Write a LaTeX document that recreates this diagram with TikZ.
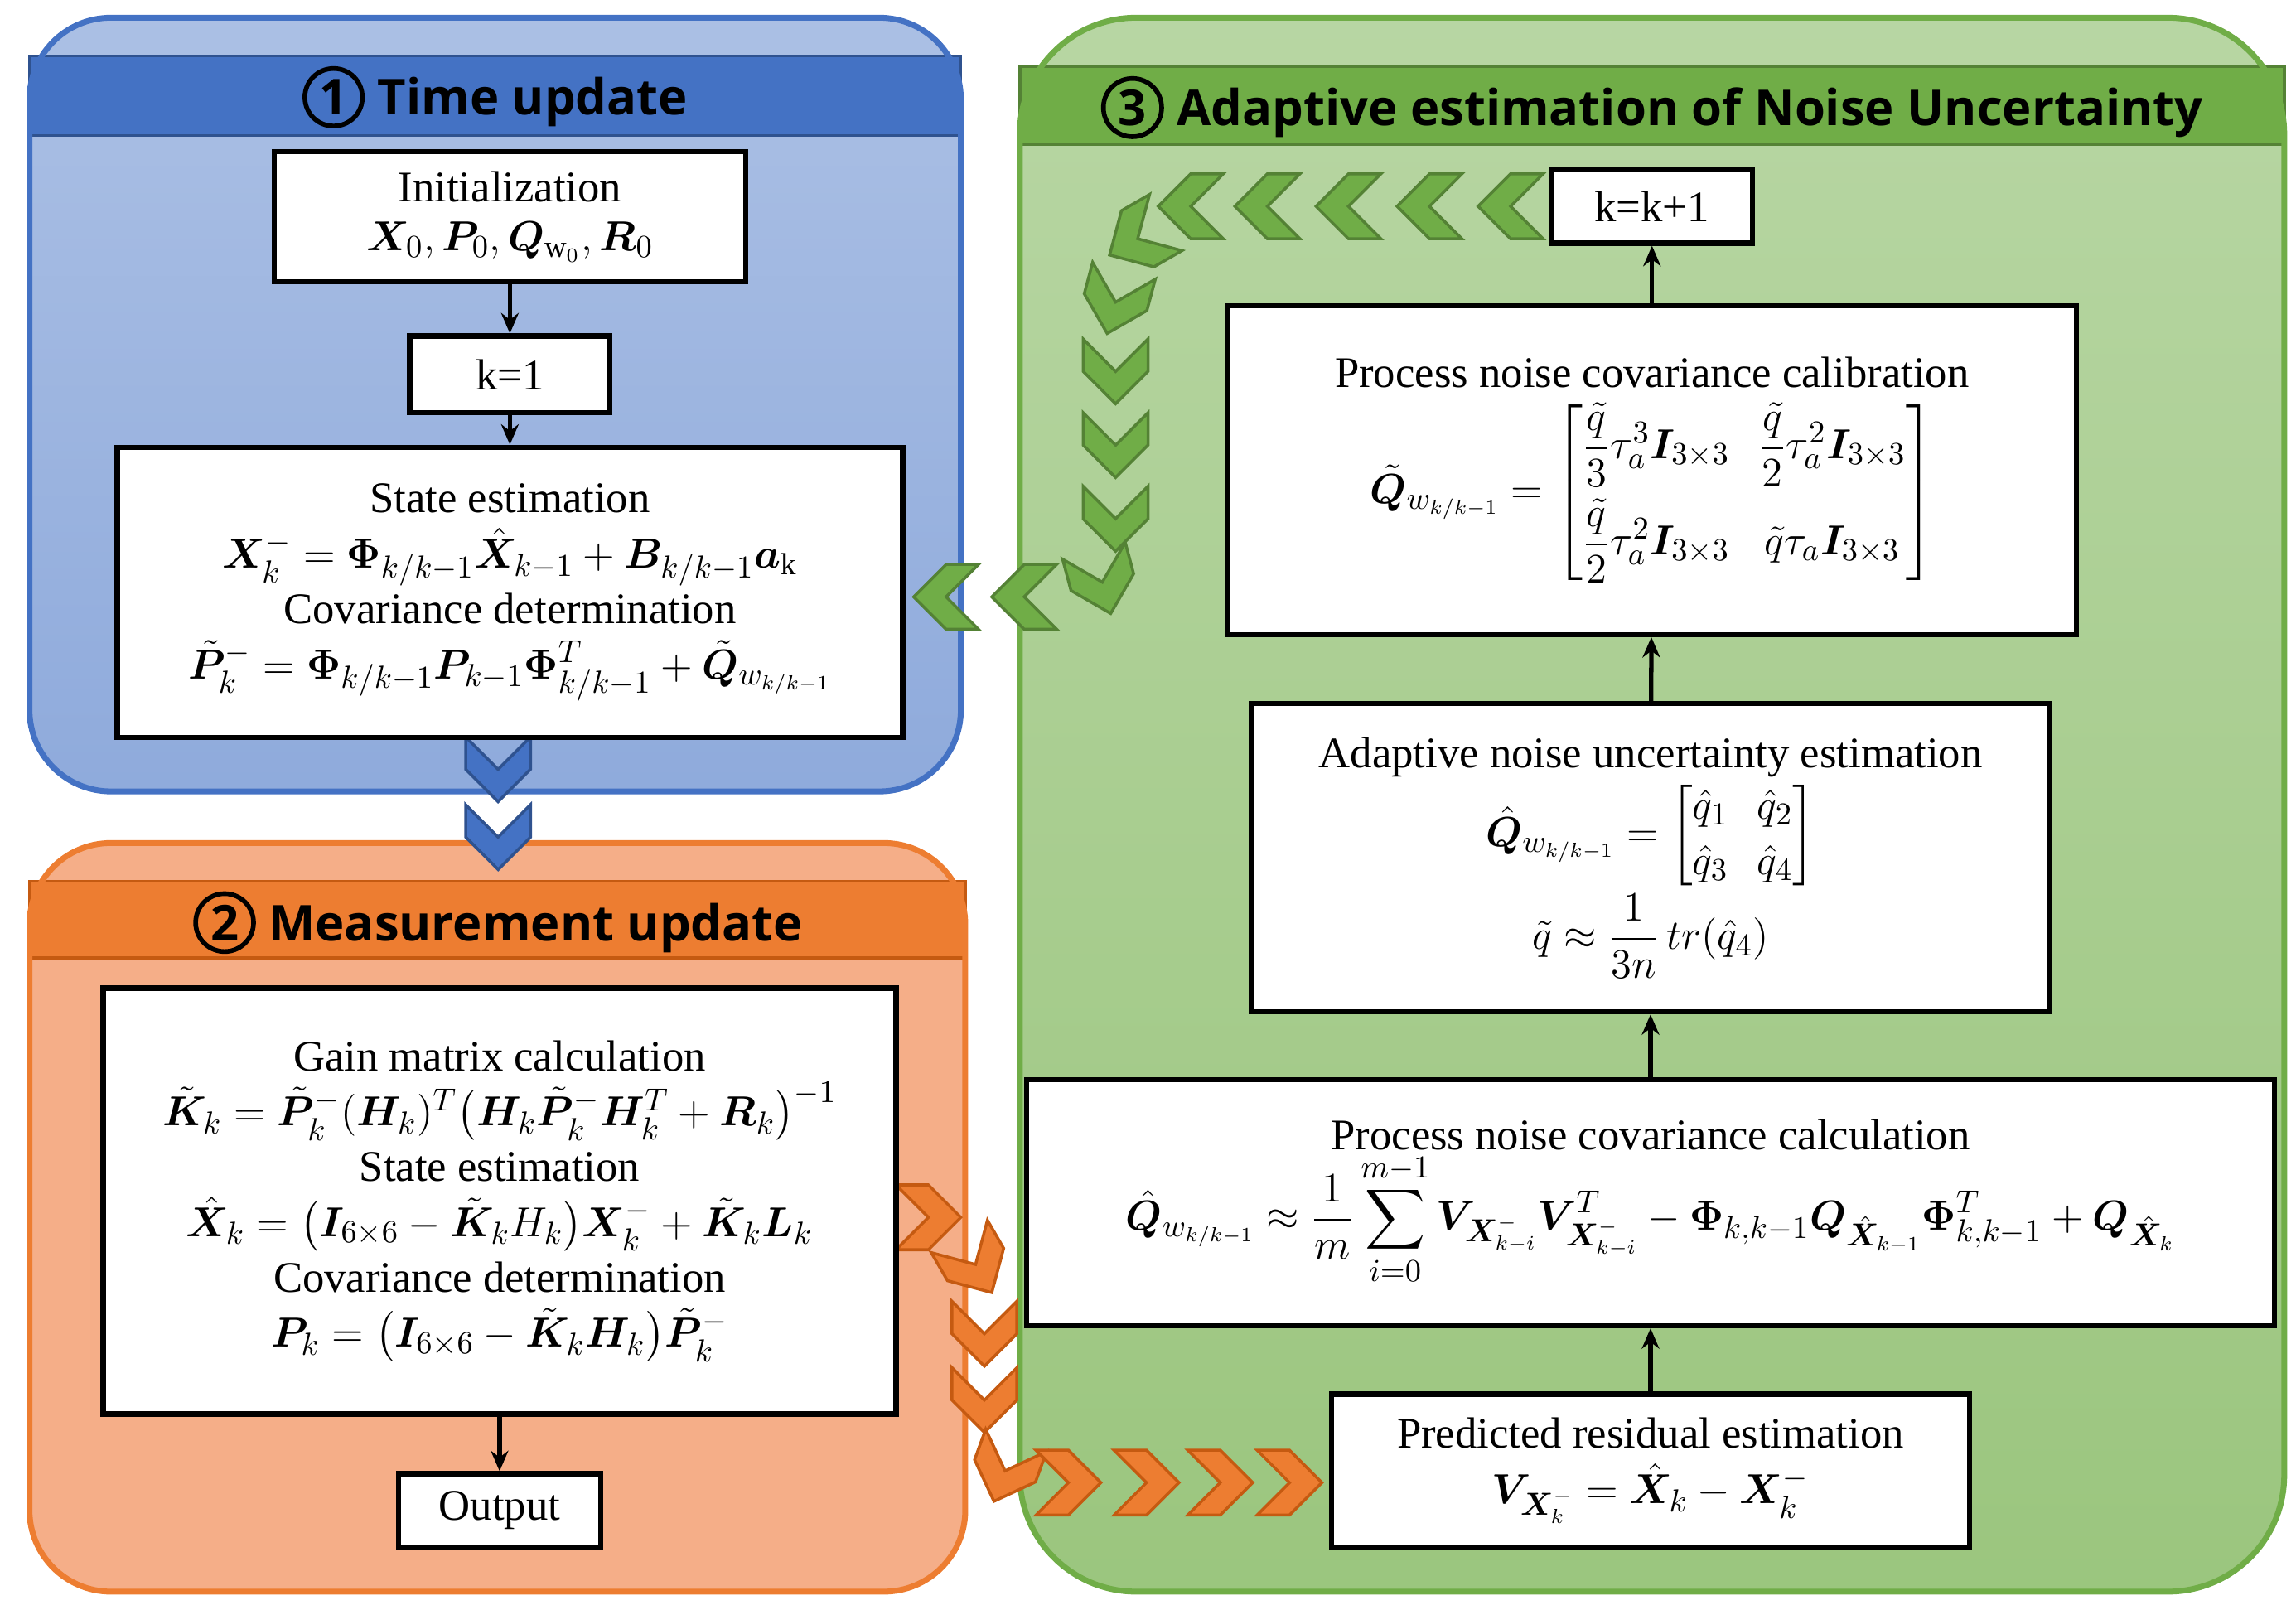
\documentclass[tikz,border=0pt]{standalone}
\usepackage{amsmath,bm}
\usepackage{fontspec}
\setmainfont{Liberation Serif}
\newfontfamily\tserif{Liberation Serif}
\newfontfamily\tsans{Open Sans}
\usetikzlibrary{arrows.meta}
\def\uu{0.017786cm}
\definecolor{bluebar}{HTML}{4472C4}
\definecolor{bluedk}{HTML}{2F528F}
\definecolor{orbar}{HTML}{ED7D31}
\definecolor{ordk}{HTML}{C55A11}
\definecolor{orfill}{HTML}{F5AE88}
\definecolor{grbar}{HTML}{70AD47}
\definecolor{grdk}{HTML}{548235}
\newcommand\circnum[1]{\tikz[baseline=(c.base)]\node[circle,draw,line width=1.6pt,inner sep=1.5pt](c){#1};}
\tikzset{
 box/.style 2 args={draw,line width=1.8pt,fill=white,minimum width=#1*\uu,minimum height=#2*\uu,align=center,inner sep=2pt,font=\tserif\fontsize{15}{19}\selectfont},
 ttl/.style={font=\tsans\bfseries\fontsize{17}{20}\selectfont},
 arr/.style={line width=1.5pt,-{Stealth[length=7pt,width=6pt]}},
 pics/chev/.style args={#1/#2/#3}{code={\draw[fill=#2,draw=#3,line width=1pt,rotate=#1] (-22,22)--(0,22)--(22,0)--(0,-22)--(-22,-22)--(0,0)--cycle;}}
}
\begin{document}
\begin{tikzpicture}[x=\uu,y=-\uu]
\useasboundingbox (0,0) rectangle (1558,1092);
% panels
\fill[top color=bluebar!45,bottom color=bluebar!60,rounded corners=28] (20,12) rectangle (652,537);
\fill[bluebar,draw=bluedk,line width=1pt] (20,38) rectangle (652,92);
\draw[bluebar,line width=2pt,rounded corners=28] (20,12) rectangle (652,537);
\fill[orfill,rounded corners=28] (20,572) rectangle (655,1080);
\fill[orbar,draw=ordk,line width=1pt] (20,598) rectangle (655,650);
\draw[orbar,line width=2pt,rounded corners=28] (20,572) rectangle (655,1080);
\fill[top color=grbar!50,bottom color=grbar!70,rounded corners=40] (692,12) rectangle (1550,1080);
\fill[grbar,draw=grdk,line width=1pt] (692,45) rectangle (1550,98);
\draw[grbar,line width=2pt,rounded corners=40] (692,12) rectangle (1550,1080);
\node[ttl] (t1) at (336,66) {\circnum{1} Time update};
\node[ttl] (t2) at (338,626) {\circnum{2} Measurement update};
\node[ttl] (t3) at (1121,73) {\circnum{3} Adaptive estimation of Noise Uncertainty};
% chevrons
\foreach \x in {1025,970,915,860,808} \pic at (\x,140) {chev=180/grbar/grdk};
\pic at (772,162) {chev=-150/grbar/grdk};
\pic at (757,205) {chev=-105/grbar/grdk};
\foreach \y in {252,302,352} \pic at (757,\y) {chev=-90/grbar/grdk};
\pic at (748,395) {chev=-75/grbar/grdk};
\foreach \x in {695,642} \pic at (\x,405) {chev=180/grbar/grdk};
\pic at (630,826) {chev=0/orbar/ordk};
\pic at (662,858) {chev=-60/orbar/ordk};
\foreach \y in {905,950} \pic at (668,\y) {chev=-90/orbar/ordk};
\pic at (682,998) {chev=-110/orbar/ordk};
\foreach \x in {725,778,828,875} \pic at (\x,1006) {chev=0/orbar/ordk};
\foreach \y in {522,568} \pic at (338,\y) {chev=-90/bluebar/bluedk};
% boxes
\node[box={320}{88}] (init) at (346,147) {Initialization\\[-2pt] $\bm X_0,\bm P_0,\bm Q_{\mathrm{w}_0},\bm R_0$};
\node[box={136}{52}] (k1) at (346,254) {k=1};
\node[box={533}{197}] (state) at (346,402) {State estimation\\
 $\bm X_k^- = \bm\Phi_{k/k-1}\hat{\bm X}_{k-1} + \bm B_{k/k-1}\bm a_{\mathrm{k}}$\\
 Covariance determination\\
 $\tilde{\bm P}_k^- = \bm\Phi_{k/k-1}\bm P_{k-1}\bm\Phi_{k/k-1}^T + \tilde{\bm Q}_{w_{k/k-1}}$};
\node[box={538}{289}] (gain) at (339,815) {Gain matrix calculation\\
 $\tilde{\bm K}_k = \tilde{\bm P}_k^-(\bm H_k)^T\big(\bm H_k\tilde{\bm P}_k^-\bm H_k^T+\bm R_k\big)^{-1}$\\
 State estimation\\
 $\hat{\bm X}_k = \big(\bm I_{6\times6} - \tilde{\bm K}_k H_k\big)\bm X_k^- + \tilde{\bm K}_k\bm L_k$\\
 Covariance determination\\
 $\bm P_k = \big(\bm I_{6\times6}-\tilde{\bm K}_k\bm H_k\big)\tilde{\bm P}_k^-$};
\node[box={137}{50}] (out) at (339,1025) {Output};
\node[box={136}{50}] (kk1) at (1121,140) {k=k+1};
\node[box={576}{223}] (calib) at (1121,319) {Process noise covariance calibration\\[4pt]
 $\tilde{\bm Q}_{w_{k/k-1}} = \begin{bmatrix}\dfrac{\tilde q}{3}\tau_a^3\bm I_{3\times3} & \dfrac{\tilde q}{2}\tau_a^2\bm I_{3\times3}\\[8pt] \dfrac{\tilde q}{2}\tau_a^2 \bm I_{3\times3} & \tilde q\tau_a\bm I_{3\times3}\end{bmatrix}$};
\node[box={542}{209}] (adapt) at (1120,582) {Adaptive noise uncertainty estimation\\
 $\hat{\bm Q}_{w_{k/k-1}} = \begin{bmatrix}\hat q_1 & \hat q_2\\ \hat q_3&\hat q_4\end{bmatrix}$\\
 $\tilde q \approx \dfrac{1}{3n}\, tr(\hat q_4)$};
\node[box={847}{167}] (calc) at (1120,816) {Process noise covariance calculation\\
 $\hat{\bm Q}_{w_{k/k-1}} \approx \dfrac1m\displaystyle\sum_{i=0}^{m-1}\bm V_{\bm X_{k-i}^-}\bm V_{\bm X_{k-i}^-}^T - \bm\Phi_{k,k-1}\bm Q_{\hat{\bm X}_{k-1}}\bm\Phi_{k,k-1}^T + \bm Q_{\hat{\bm X}_k}$};
\node[box={433}{104}] (res) at (1120,998) {Predicted residual estimation\\
 $\bm V_{\bm X_k^-} = \hat{\bm X}_k - \bm X_k^-$};
% arrows
\draw[arr] (init) -- (k1);
\draw[arr] (k1) -- (state);
\draw[arr] (gain) -- (out);
\draw[arr] (res) -- (calc);
\draw[arr] (calc) -- (adapt);
\draw[arr] (adapt) -- (calib);
\draw[arr] (calib) -- (kk1);
\end{tikzpicture}
\end{document}
